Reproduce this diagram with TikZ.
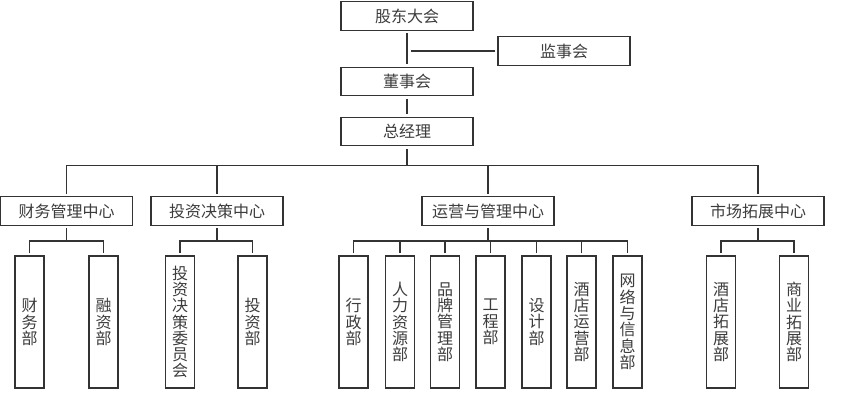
\documentclass[tikz,border=0pt]{standalone}
\usepackage{fontspec}
\usepackage{tikz}
\usetikzlibrary{positioning,calc}
\newfontfamily\cjk{Noto Sans CJK SC}
\definecolor{linec}{HTML}{333333}
\definecolor{textc}{HTML}{3C3C3C}

\begin{document}
\begin{tikzpicture}[x=1pt,y=-1pt,
        box/.style={draw=linec,line width=1.2pt,text=textc,font=\cjk\fontsize{16}{16}\selectfont,minimum width=132pt,minimum height=28.5pt,inner sep=0pt,outer sep=3pt},
        dept/.style={draw=linec,line width=1.2pt,text=textc,font=\cjk\fontsize{16}{16.3}\selectfont,align=center,minimum width=29pt,minimum height=132pt,inner sep=0pt,outer sep=3pt},
        link/.style={draw=linec,line width=1.2pt}]
        \useasboundingbox (0,0) rectangle (843,415);

        \node[box] (gd) at (407,16) {股东大会};
        \node[box] (js) at (564,51) {监事会};
        \node[box] (dsh) at (407,81.5) {董事会};
        \node[box] (zjl) at (407,131.5) {总经理};

        \node[box] (cw) at (66.5,211) {财务管理中心};
        \node[box] (tz) at (217,211) {投资决策中心};
        \node[box] (yy) at (488,211) {运营与管理中心};
        \node[box] (sc) at (758,211) {市场拓展中心};

        \node[dept] (cwb) at (29.5,322) {财\\务\\部};
        \node[dept] (rz) at (103.5,322) {融\\资\\部};
        \node[dept] (tzw) at (180,322) {投\\资\\决\\策\\委\\员\\会};
        \node[dept] (tzb) at (252.5,322) {投\\资\\部};
        \node[dept] (xz) at (353.5,322) {行\\政\\部};
        \node[dept] (rl) at (400,322) {人\\力\\资\\源\\部};
        \node[dept] (pp) at (445,322) {品\\牌\\管\\理\\部};
        \node[dept] (gc) at (490.5,322) {工\\程\\部};
        \node[dept] (sj) at (536.5,322) {设\\计\\部};
        \node[dept] (jd) at (581.5,322) {酒\\店\\运\\营\\部};
        \node[dept] (wl) at (627.5,322) {网\\络\\与\\信\\息\\部};
        \node[dept] (jt) at (721,322) {酒\\店\\拓\\展\\部};
        \node[dept] (sy) at (794,322) {商\\业\\拓\\展\\部};

        \coordinate (bus) at (407,165.5);
        \coordinate (br) at (0,241);

        \draw[link] (gd) -- (dsh);
        \draw[link,shorten >=4pt] (js.west) -- (js.west -| gd.south);
        \draw[link] (dsh) -- (zjl);
        \draw[link] (zjl) -- (bus);
        \draw[link] (cw.north) -- (cw.north |- bus) -- (sc.north |- bus) -- (sc.north);
        \draw[link] (tz.north) -- (tz.north |- bus);
        \draw[link] (yy.north) -- (yy.north |- bus);

        \draw[link] (cw.south) -- (cw.south |- br);
        \draw[link] (cwb.north) -- (cwb.north |- br) -- (rz.north |- br) -- (rz.north);
        \draw[link] (tz.south) -- (tz.south |- br);
        \draw[link] (tzw.north) -- (tzw.north |- br) -- (tzb.north |- br) -- (tzb.north);
        \draw[link] (yy.south) -- (yy.south |- br);
        \draw[link] (xz.north) -- (xz.north |- br) -- (wl.north |- br) -- (wl.north);
        \draw[link] (rl.north) -- (rl.north |- br);
        \draw[link] (pp.north) -- (pp.north |- br);
        \draw[link] (gc.north) -- (gc.north |- br);
        \draw[link] (sj.north) -- (sj.north |- br);
        \draw[link] (jd.north) -- (jd.north |- br);
        \draw[link] (sc.south) -- (sc.south |- br);
        \draw[link] (jt.north) -- (jt.north |- br) -- (sy.north |- br) -- (sy.north);
    \end{tikzpicture}
\end{document}
